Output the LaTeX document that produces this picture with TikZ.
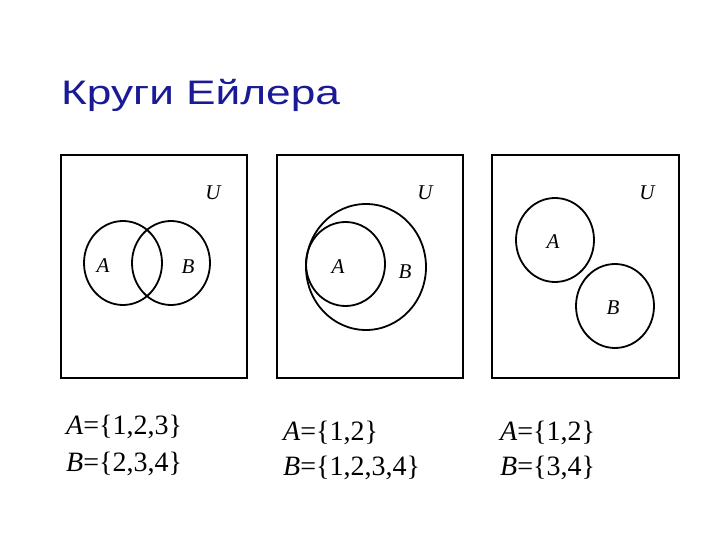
\documentclass[tikz,border=0pt]{standalone}
\usepackage{fontspec}
\setmainfont{Liberation Serif}
\newfontfamily\titlefont{Liberation Sans}
\usetikzlibrary{shapes.geometric}
\definecolor{titleblue}{RGB}{26,26,150}
\begin{document}
\begin{tikzpicture}[x=1pt,y=-1pt,
 setbox/.style={draw, line width=1.2pt, minimum width=186, minimum height=223, inner sep=0},
 setcirc/.style={draw, ellipse, line width=1.8pt, inner sep=0, minimum width=78, minimum height=84},
 lbl/.style={font=\fontsize{21}{24}\selectfont\itshape, inner sep=0},
 formula/.style={font=\fontsize{28}{32}\selectfont, anchor=base west, inner sep=0}]
\useasboundingbox (0,0) rectangle (720,540);
\fill[white] (0,0) rectangle (720,540);
% title
\node[anchor=base west, inner sep=0, text=titleblue, font=\titlefont\fontsize{34}{40}\selectfont] (title) at (61,105) {\scalebox{1.3}[1]{Круги Ейлера}};
% panel 1
\node[setbox] (U1) at (154,266.5) {};
\node[setcirc] (A1) at (123,263) {};
\node[setcirc] (B1) at (171,263) {};
\node[lbl] (uA1) at (103,266) {A};
\node[lbl] (uB1) at (188,267) {B};
\node[lbl] (uU1) at (213,193) {U};
% panel 2
\node[setbox] (U2) at (370,266.5) {};
\node[setcirc, minimum width=120, minimum height=126] (B2) at (366,267) {};
\node[setcirc, minimum width=79] (A2) at (345.5,264) {};
\node[lbl] (uA2) at (338,266.5) {A};
\node[lbl] (uB2) at (405,271.5) {B};
\node[lbl] (uU2) at (425,193) {U};
% panel 3
\node[setbox, minimum width=187] (U3) at (585.5,266.5) {};
\node[setcirc] (A3) at (555,240) {};
\node[setcirc] (B3) at (615,306) {};
\node[lbl] (uA3) at (553,241.5) {A};
\node[lbl] (uB3) at (613,308) {B};
\node[lbl] (uU3) at (647,193) {U};
% formulas
\node[formula] (f1a) at (66,434) {\textit{A}=\{1,2,3\}};
\node[formula] (f1b) at (66,471) {\textit{B}=\{2,3,4\}};
\node[formula] (f2a) at (283,440) {\textit{A}=\{1,2\}};
\node[formula] (f2b) at (283,475) {\textit{B}=\{1,2,3,4\}};
\node[formula] (f3a) at (500,440) {\textit{A}=\{1,2\}};
\node[formula] (f3b) at (500,475) {\textit{B}=\{3,4\}};
\end{tikzpicture}
\end{document}
